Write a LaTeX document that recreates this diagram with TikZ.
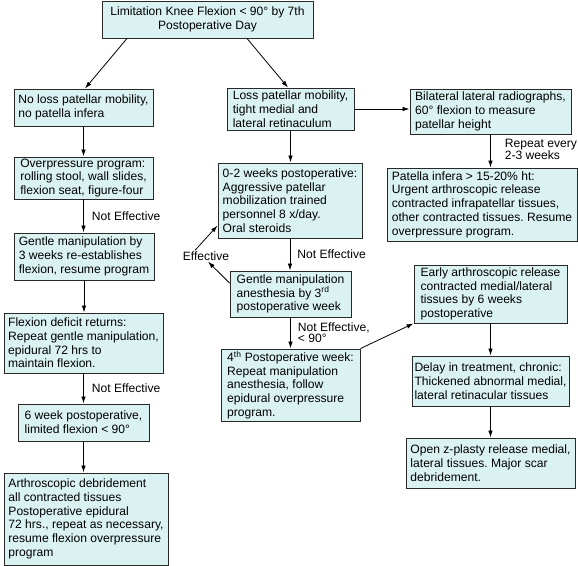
\documentclass[tikz,border=0pt]{standalone}
\usepackage{fontspec}
\setmainfont{Liberation Sans}
\usetikzlibrary{arrows.meta,positioning}
\definecolor{boxfill}{RGB}{219,242,242}
\definecolor{boxline}{RGB}{40,40,40}
\frenchspacing

\begin{document}
\begin{tikzpicture}[x=1bp,y=-1bp,
  box/.style={draw=boxline,fill=boxfill,line width=0.9bp,inner sep=0pt,align=left,
    font=\fontsize{12.1bp}{13.7bp}\selectfont},
  wh/.style 2 args={minimum width=#1bp,minimum height=#2bp},
  arr/.style={-{Latex[length=7bp,width=4.5bp]},line width=0.8bp,black},
  lbl/.style={inner sep=1bp,align=left,font=\fontsize{12.1bp}{11bp}\selectfont}]
\useasboundingbox (0,0) rectangle (578,566);
\node[box,wh={211}{37},align=center] (top) at (207.5,19.5)
  {Limitation Knee Flexion < 90° by 7th\\Postoperative Day};
\node[box,wh={139}{37}] (nolos) at (83.5,107.5)
  {No loss patellar mobility,\\no patella infera};
\node[box,wh={127}{42}] (loss) at (290.5,109)
  {Loss patellar mobility,\\tight medial and\\lateral retinaculum};
\node[box,wh={161}{45}] (bilat) at (490.5,111.5)
  {Bilateral lateral radiographs,\\60° flexion to measure\\patellar height};
\node[box,wh={139}{42}] (overp) at (83.5,178)
  {Overpressure program:\\rolling stool, wall slides,\\flexion seat, figure-four};
\node[box,wh={140}{47}] (gentle) at (84,256.5)
  {Gentle manipulation by\\3 weeks re-establishes\\flexion, resume program};
\node[box,wh={159}{60}] (flexdef) at (83.5,343)
  {Flexion deficit returns:\\Repeat gentle manipulation,\\epidural 72 hrs to\\maintain flexion.};
\node[box,wh={131}{37}] (sixwk) at (83.5,422.5)
  {6 week postoperative,\\limited flexion < 90°};
\node[box,wh={164}{92}] (arthro) at (86,519)
  {Arthroscopic debridement\\all contracted tissues\\Postoperative epidural\\72 hrs., repeat as necessary,\\resume flexion overpressure\\program};
\node[box,wh={144}{75}] (zerotwo) at (290,200.5)
  {0-2 weeks postoperative:\\Aggressive patellar\\mobilization trained\\personnel 8 x/day.\\Oral steroids};
\node[box,wh={121}{46}] (gmanip) at (290.5,294)
  {Gentle manipulation\\anesthesia by 3\textsuperscript{rd}\\postoperative week};
\node[box,wh={139}{72}] (fourth) at (290.5,385)
  {4\textsuperscript{th} Postoperative week:\\Repeat manipulation\\anesthesia, follow\\epidural overpressure\\program.};
\node[box,wh={190}{73}] (infera) at (482,204.5)
  {Patella infera > 15-20\% ht:\\Urgent arthroscopic release\\contracted infrapatellar tissues,\\other contracted tissues. Resume\\overpressure program.};
\node[box,wh={153}{58}] (early) at (490.5,294)
  {Early arthroscopic release\\contracted medial/lateral\\tissues by 6 weeks\\postoperative};
\node[box,wh={157}{50}] (delay) at (490.5,381)
  {Delay in treatment, chronic:\\Thickened abnormal medial,\\lateral retinacular tissues};
\node[box,wh={169}{50}] (zplasty) at (490.5,463)
  {Open z-plasty release medial,\\lateral tissues. Major scar\\debridement.};
\node[lbl] (eff) at (206,256) {Effective};
\draw[arr] ([xshift=-80.5bp]top.south) -- ([xshift=1.5bp]nolos.north);
\draw[arr] ([xshift=39.5bp]top.south) -- ([xshift=-2.5bp]loss.north);
\draw[arr] (nolos.south) -- (nolos.south |- overp.north);
\draw[arr] (overp.south) -- node[lbl,right=7bp]{Not Effective} (overp.south |- gentle.north);
\draw[arr] (gentle.south) -- (gentle.south |- flexdef.north);
\draw[arr] (flexdef.south) -- node[lbl,right=7bp]{Not Effective} (flexdef.south |- sixwk.north);
\draw[arr] (sixwk.south) -- (sixwk.south |- arthro.north);
\draw[arr] (loss.south) -- (loss.south |- zerotwo.north);
\draw[arr] (loss.east) -- (loss.east -| bilat.west);
\draw[arr] (bilat.south) -- node[lbl,right=13bp,pos=0.45]{Repeat every\\2-3 weeks} (bilat.south |- infera.north);
\draw[arr] (zerotwo.south) -- node[lbl,right=6bp]{Not Effective} (zerotwo.south |- gmanip.north);
\draw[arr] (gmanip.south) -- node[lbl,right=6bp]{Not Effective,\\< 90°} (gmanip.south |- fourth.north);
\draw[arr] ([yshift=11bp]gmanip.west) -- ([xshift=2bp]eff.south);
\draw[arr] ([xshift=-11bp]eff.north) -- ([yshift=-25bp]zerotwo.west);
\draw[arr] (fourth.north east) -- (early.south west);
\draw[arr] (early.south) -- (early.south |- delay.north);
\draw[arr] (delay.south) -- (delay.south |- zplasty.north);
\end{tikzpicture}
\end{document}
